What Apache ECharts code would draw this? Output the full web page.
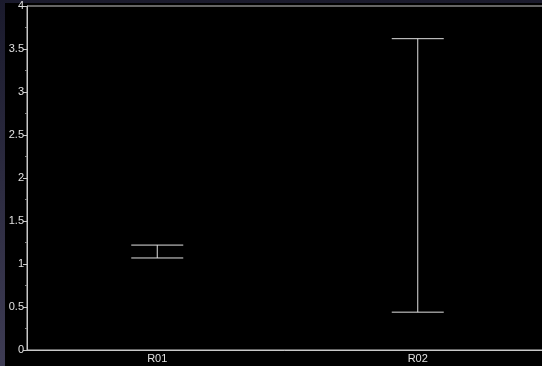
<!DOCTYPE html>
<html>
<head>
<meta charset="utf-8">
<script src="https://cdn.jsdelivr.net/npm/echarts@6/dist/echarts.min.js"></script>
<style>
  html, body { margin: 0; padding: 0; width: 542px; height: 366px; overflow: hidden;
    background: linear-gradient(#1a1a2c, #3e3c54); }
  #errChart { position: absolute; left: 0; top: 0; width: 542px; height: 366px; }
</style>
</head>
<body>
<div id="errChart"></div>
<script>
  // data
  var categories = ['R01', 'R02'];
  var lowValues = [1.07, 0.44];
  var highValues = [1.22, 3.62];
  var yTicks = [0, 0.5, 1, 1.5, 2, 2.5, 3, 3.5, 4];

  var chart = echarts.init(document.getElementById('errChart'));
  var seriesData = categories.map(function (c, i) { return [i, lowValues[i], highValues[i]]; });

  chart.setOption({
    animation: false,
    graphic: [{
      type: 'rect', silent: true, z: -100,
      shape: { x: 5, y: 3, width: 537, height: 363 },
      style: { fill: '#000' }
    }],
    grid: {
      left: 27, top: 6, bottom: 16, width: 521,
      outerBoundsMode: 'none',
      show: true, borderColor: '#c8c8c8', borderWidth: 1
    },
    xAxis: {
      type: 'category',
      data: categories,
      axisLine: { lineStyle: { color: '#c8c8c8' } },
      axisTick: { alignWithLabel: true, length: 3, lineStyle: { color: '#c8c8c8' } },
      axisLabel: { color: '#e0e0e0', fontSize: 11, margin: 3, fontFamily: 'Liberation Sans' },
      splitLine: { show: false }
    },
    yAxis: {
      type: 'value',
      min: yTicks[0], max: yTicks[yTicks.length - 1], interval: 0.5,
      axisLine: { show: true, lineStyle: { color: '#c8c8c8' } },
      axisTick: { show: true, length: 4, lineStyle: { color: '#c8c8c8' } },
      minorTick: { show: true, splitNumber: 2, length: 2, lineStyle: { color: '#888' } },
      axisLabel: { color: '#e0e0e0', fontSize: 11, margin: 3, fontFamily: 'Liberation Sans' },
      splitLine: { show: false }
    },
    series: [{
      type: 'custom',
      data: seriesData,
      renderItem: function (params, api) {
        var x = api.value(0);
        var lo = api.coord([x, api.value(1)]);
        var hi = api.coord([x, api.value(2)]);
        var half = 26;
        var style = { stroke: '#e0e0e0', lineWidth: 1 };
        return {
          type: 'group',
          children: [
            { type: 'line', shape: { x1: hi[0], y1: hi[1], x2: lo[0], y2: lo[1] }, style: style },
            { type: 'line', shape: { x1: hi[0] - half, y1: hi[1], x2: hi[0] + half, y2: hi[1] }, style: style },
            { type: 'line', shape: { x1: lo[0] - half, y1: lo[1], x2: lo[0] + half, y2: lo[1] }, style: style }
          ]
        };
      }
    }]
  });
</script>
</body>
</html>
